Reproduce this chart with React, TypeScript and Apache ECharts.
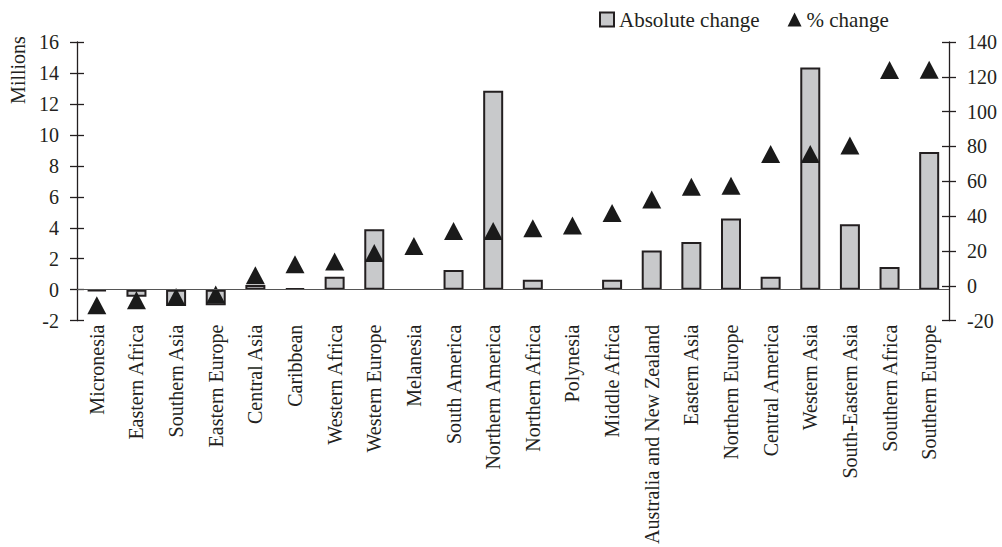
import React, { useEffect, useRef } from "react";
import * as echarts from "echarts";

const categories = [
  "Micronesia", "Eastern Africa", "Southern Asia", "Eastern Europe", "Central Asia",
  "Caribbean", "Western Africa", "Western Europe", "Melanesia", "South America",
  "Northern America", "Northern Africa", "Polynesia", "Middle Africa",
  "Australia and New Zealand", "Eastern Asia", "Northern Europe", "Central America",
  "Western Asia", "South-Eastern Asia", "Southern Africa", "Southern Europe",
];

const absoluteChange = [
  -0.1, -0.45, -1.05, -1.0, 0.3, 0.1, 0.84, 3.9, null, 1.27, 12.85,
  0.64, null, 0.64, 2.53, 3.08, 4.6, 0.84, 14.35, 4.22, 1.46, 8.9,
];

const pctChange = [
  -11.2, -8.3, -6.4, -5, 6, 12.4, 13.9, 18.8, 22.8, 31.5, 31.5,
  33.1, 34.6, 41.8, 49.6, 56.9, 57.4, 75.7, 75.7, 80.5, 123.9, 124,
];

const leftTicks = { min: -2, max: 16, interval: 2 };
const rightTicks = { min: -20, max: 140, interval: 20 };

const FONT = "'Liberation Serif', 'Times New Roman', serif";
const INK = "#231f20";

export default function App() {
  const ref = useRef<HTMLDivElement>(null);
  useEffect(() => {
    document.body.style.margin = "0";
    const chart = echarts.init(ref.current!, null, { renderer: "svg" });
    const axisBase = (pos: "left" | "right", t: any, inside: boolean) => ({
      type: "value",
      position: pos,
      min: t.min,
      max: t.max,
      interval: t.interval,
      splitLine: { show: false },
      axisLine: { show: !inside, lineStyle: { color: INK, width: 1.3 } },
      axisTick: { show: true, inside, length: 7, lineStyle: { color: INK, width: 1.3 } },
      axisLabel: {
        show: !inside,
        color: INK,
        fontFamily: FONT,
        fontSize: 20,
        margin: 18,
      },
    });
    chart.setOption({
      animation: false,
      backgroundColor: "#ffffff",
      textStyle: { fontFamily: FONT },
      grid: { left: 77, right: 53, top: 42, bottom: 225, containLabel: false },
      legend: {
        left: 594,
        top: 4,
        itemWidth: 14,
        itemHeight: 14,
        itemGap: 28,
        textStyle: { fontFamily: FONT, fontSize: 21, color: INK },
        data: [
          { name: "Absolute change", icon: "rect" },
          { name: "% change", icon: "triangle" },
        ],
      },
      graphic: [
        {
          type: "text",
          x: 17.5,
          y: 70,
          rotation: Math.PI / 2,
          style: {
            text: "Millions",
            fontFamily: FONT,
            fontSize: 20,
            fill: INK,
            align: "center",
            verticalAlign: "middle",
          },
        },
      ],
      xAxis: {
        type: "category",
        data: categories,
        boundaryGap: true,
        axisLine: { show: false, onZero: false },
        axisTick: { show: false },
        axisLabel: {
          rotate: 90,
          interval: 0,
          margin: 4,
          color: INK,
          fontFamily: FONT,
          fontSize: 20,
        },
      },
      yAxis: [
        axisBase("left", leftTicks, false),
        axisBase("right", rightTicks, false),
        axisBase("left", leftTicks, true),
        axisBase("right", rightTicks, true),
      ],
      series: [
        {
          name: "Absolute change",
          type: "bar",
          yAxisIndex: 0,
          barWidth: 20,
          data: absoluteChange,
          itemStyle: { color: "#c8c9cb", borderColor: INK, borderWidth: 2 },
          markLine: {
            silent: true,
            symbol: "none",
            label: { show: false },
            lineStyle: { color: "#555555", width: 1.2, type: "solid" },
            data: [{ yAxis: 0 }],
          },
          z: 2,
        },
        {
          name: "% change",
          type: "scatter",
          yAxisIndex: 1,
          symbol: "triangle",
          symbolSize: [19, 18],
          data: pctChange,
          itemStyle: { color: "#1a1a1a", opacity: 1 },
          z: 3,
        },
      ],
    });
    return () => chart.dispose();
  }, []);
  return (
    <div
      ref={ref}
      style={{ position: "fixed", left: 0, top: 0, width: 1002, height: 547 }}
    />
  );
}
